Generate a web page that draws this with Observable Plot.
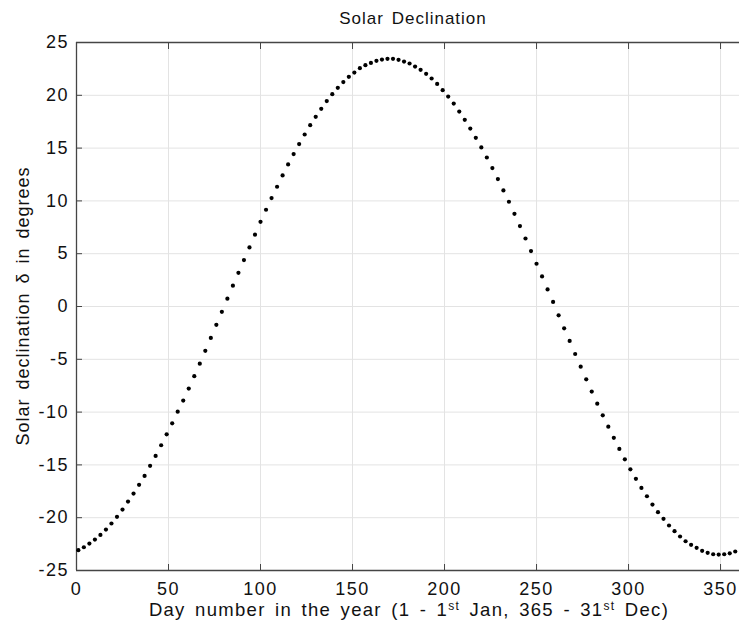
<!DOCTYPE html>
<html><head><meta charset="utf-8">
<script src="https://cdn.jsdelivr.net/npm/d3@7"></script>
<script src="https://cdn.jsdelivr.net/npm/@observablehq/plot@0.6"></script>
<style>
body{margin:0;background:#fff;}
#chart svg{display:block;}
</style></head><body><div id="chart"></div>
<script>
const days = [1,4,7,10,13,16,19,22,25,28,31,34,37,40,43,46,49,52,55,58,61,64,67,70,73,76,79,82,85,88,91,94,97,100,103,106,109,112,115,118,121,124,127,130,133,136,139,142,145,148,151,154,157,160,163,166,169,172,175,178,181,184,187,190,193,196,199,202,205,208,211,214,217,220,223,226,229,232,235,238,241,244,247,250,253,256,259,262,265,268,271,274,277,280,283,286,289,292,295,298,301,304,307,310,313,316,319,322,325,328,331,334,337,340,343,346,349,352,355,358];
const declination = [-23.08,-22.80,-22.45,-22.07,-21.63,-21.12,-20.55,-19.92,-19.23,-18.47,-17.72,-16.89,-16.04,-15.09,-14.15,-13.14,-12.10,-11.06,-9.96,-8.91,-7.77,-6.60,-5.41,-4.20,-2.98,-1.74,-0.50,0.74,1.97,3.19,4.40,5.59,6.80,8.02,9.16,10.27,11.34,12.41,13.45,14.43,15.38,16.29,17.17,17.96,18.72,19.45,20.11,20.71,21.25,21.75,22.15,22.57,22.85,23.07,23.26,23.38,23.45,23.45,23.36,23.19,23.01,22.72,22.41,22.03,21.59,21.08,20.49,19.88,19.22,18.46,17.68,16.85,15.97,15.06,14.11,13.11,12.07,10.99,9.92,8.78,7.62,6.44,5.25,4.05,2.85,1.62,0.43,-0.84,-2.07,-3.26,-4.50,-5.70,-6.90,-8.06,-9.20,-10.31,-11.38,-12.44,-13.49,-14.47,-15.42,-16.32,-17.18,-17.97,-18.76,-19.48,-20.11,-20.74,-21.28,-21.78,-22.23,-22.57,-22.85,-23.14,-23.33,-23.46,-23.49,-23.46,-23.37,-23.20];
const xTicks = [0,50,100,150,200,250,300,350];
const yTicks = [-25,-20,-15,-10,-5,0,5,10,15,20,25];
const titleText = "Solar Declination";
const yLabel = "Solar declination δ in degrees";
const xLabelParts = [["Day number in the year (1 - 1", false], ["st", true], [" Jan, 365 - 31", false], ["st", true], [" Dec)", false]];

const data = days.map((d, i) => ({day: d, decl: declination[i]}));
const font = "'Liberation Sans', Arial, Helvetica, sans-serif";
const axisColor = "#454545";
const gridColor = "#e3e3e3";

const chart = Plot.plot({
  width: 739, height: 634,
  marginLeft: 76, marginRight: 0, marginTop: 42, marginBottom: 64,
  style: {fontFamily: font, fontSize: "18px", letterSpacing: "1.5px", color: "#000", background: "#fff"},
  x: {domain: [0, 360.3]},
  y: {domain: [-25, 25]},
  marks: [
    Plot.gridX(xTicks, {stroke: gridColor, strokeOpacity: 1}),
    Plot.gridY(yTicks, {stroke: gridColor, strokeOpacity: 1}),
    Plot.ruleY([-25, 25], {stroke: axisColor, strokeWidth: 1.3}),
    Plot.ruleX([0], {stroke: axisColor, strokeWidth: 1.3}),
    Plot.axisX(xTicks, {anchor: "bottom", tickSize: -6, tickPadding: 17.5, stroke: axisColor, fill: "#111", label: null, tickFormat: d => String(d)}),
    Plot.axisX(xTicks, {anchor: "top", tickSize: -6, tickPadding: 0, stroke: axisColor, label: null, tickFormat: () => ""}),
    Plot.axisY(yTicks, {anchor: "left", tickSize: -6, tickPadding: 13.5, stroke: axisColor, fill: "#111", label: null, tickFormat: d => String(d)}),
    Plot.dot(data, {x: "day", y: "decl", r: 2.1, fill: "#000", stroke: null})
  ]
});

const svg = d3.select(chart);
svg.append("text")
  .attr("x", 413).attr("y", 24)
  .attr("text-anchor", "middle")
  .attr("font-family", font).attr("font-size", 17).attr("fill", "#111")
  .attr("letter-spacing", "1px").attr("word-spacing", "2px")
  .text(titleText);

svg.append("text")
  .attr("transform", "translate(29,306) rotate(-90)")
  .attr("text-anchor", "middle")
  .attr("font-family", font).attr("font-size", 18).attr("fill", "#111")
  .attr("letter-spacing", "1px").attr("word-spacing", "3px")
  .text(yLabel);

const xl = svg.append("text")
  .attr("x", 409).attr("y", 616)
  .attr("text-anchor", "middle")
  .attr("font-family", font).attr("font-size", 18.5).attr("fill", "#111")
  .attr("letter-spacing", "1.3px").attr("word-spacing", "3px");
let prevSup = false;
for (const [t, sup] of xLabelParts) {
  const ts = xl.append("tspan").text(t);
  if (sup) { ts.attr("dy", -6.5).attr("font-size", 12); }
  else if (prevSup) { ts.attr("dy", 6.5); }
  prevSup = sup;
}

document.getElementById("chart").appendChild(chart);
</script>
</body></html>
